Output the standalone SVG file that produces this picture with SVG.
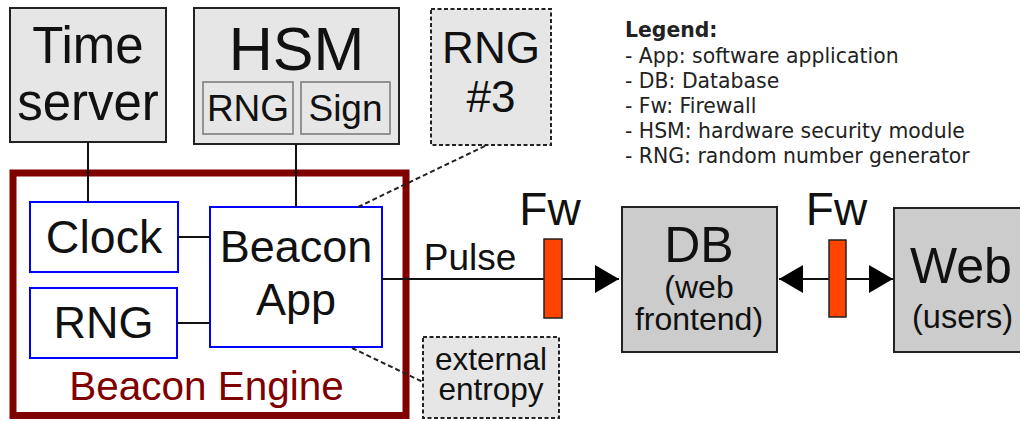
<svg xmlns="http://www.w3.org/2000/svg" width="1020" height="421" viewBox="0 0 1020 421">
<defs>
<style>
.lbl{font-family:"Liberation Sans",Arial,sans-serif;fill:#111;text-anchor:middle}
.leg{font-family:"DejaVu Sans",sans-serif;fill:#222;font-size:20.4px}
.box{fill:#e6e6e6;stroke:#222;stroke-width:2}
.gbox{fill:#cccccc;stroke:#222;stroke-width:2}
.inner{fill:#e6e6e6;stroke:#777;stroke-width:1.5}
.dash{fill:#e6e6e6;stroke:#222;stroke-width:2;stroke-dasharray:4,2.5}
.sub{fill:#fff;stroke:#0000ff;stroke-width:2}
.line{stroke:#111;stroke-width:2;fill:none}
.dline{stroke:#222;stroke-width:2;fill:none;stroke-dasharray:5,3}
.fw{fill:#ff4400;stroke:#222;stroke-width:1.5}
</style>
<marker id="arr" viewBox="0 0 24 28" refX="24" refY="14" markerWidth="24" markerHeight="28" markerUnits="userSpaceOnUse" orient="auto-start-reverse">
<path d="M0,0 L24,14 L0,28 Z" fill="#000"/>
</marker>
</defs>
<rect width="1020" height="421" fill="#fff"/>

<g id="time-server">
<rect class="box" x="10" y="8" width="156" height="134"/>
<text class="lbl" x="88" y="63" font-size="51">Time</text>
<text class="lbl" x="88" y="120" font-size="51">server</text>
</g>

<g id="hsm">
<rect class="box" x="194" y="8" width="205" height="136"/>
<text class="lbl" x="296.5" y="70" font-size="61">HSM</text>
<rect class="inner" x="203" y="82" width="90" height="52"/>
<text class="lbl" x="248" y="121" font-size="37">RNG</text>
<rect class="inner" x="301" y="82" width="89" height="52"/>
<text class="lbl" x="345.5" y="121" font-size="37">Sign</text>
</g>

<g id="rng3">
<rect class="dash" x="431" y="9" width="120" height="136"/>
<text class="lbl" x="491" y="63" font-size="44">RNG</text>
<text class="lbl" x="491" y="112" font-size="44">#3</text>
</g>

<g id="legend">
<text class="leg" x="625" y="37" font-weight="bold">Legend:</text>
<text class="leg" x="625" y="62.5">- App: software application</text>
<text class="leg" x="625" y="87.5">- DB: Database</text>
<text class="leg" x="625" y="112.5">- Fw: Firewall</text>
<text class="leg" x="625" y="138">- HSM: hardware security module</text>
<text class="leg" x="625" y="163">- RNG: random number generator</text>
</g>

<g id="beacon-engine">
<rect x="13" y="173" width="393" height="242.5" fill="#fff" stroke="#800000" stroke-width="7"/>
<text class="lbl" x="206.5" y="400" font-size="40.5" style="fill:#800000">Beacon Engine</text>
</g>

<g id="clock">
<rect class="sub" x="30" y="202" width="148" height="70"/>
<text class="lbl" x="104" y="253" font-size="46.5">Clock</text>
</g>

<g id="rng">
<rect class="sub" x="30" y="288" width="147" height="70"/>
<text class="lbl" x="103.5" y="338" font-size="45">RNG</text>
</g>

<g id="beacon-app">
<rect class="sub" x="210" y="207" width="172" height="140"/>
<text class="lbl" x="296" y="262" font-size="45">Beacon</text>
<text class="lbl" x="296" y="315" font-size="45">App</text>
</g>

<g id="external-entropy">
<rect class="dash" x="423" y="337" width="136" height="81"/>
<text class="lbl" x="491" y="370" font-size="31.5">external</text>
<text class="lbl" x="491" y="400" font-size="31.5">entropy</text>
</g>

<g id="db">
<rect class="gbox" x="622" y="207" width="155" height="145"/>
<text class="lbl" x="699" y="262" font-size="50">DB</text>
<text class="lbl" x="699" y="298" font-size="32">(web</text>
<text class="lbl" x="699" y="330" font-size="32">frontend)</text>
</g>

<g id="web">
<rect class="gbox" x="894" y="208" width="140" height="144"/>
<text class="lbl" x="910" y="283" font-size="50" style="text-anchor:start">Web</text>
<text class="lbl" x="912" y="328" font-size="32.5" style="text-anchor:start">(users)</text>
</g>

<g id="connectors">
<line class="line" x1="88" y1="142" x2="88" y2="202"/>
<line class="line" x1="296" y1="144" x2="296" y2="207"/>
<line class="line" x1="178" y1="237" x2="210" y2="237"/>
<line class="line" x1="177" y1="323" x2="210" y2="323"/>
<line class="dline" x1="358" y1="207" x2="487" y2="145"/>
<line class="dline" x1="352" y1="348" x2="423" y2="382"/>
<line class="line" x1="382" y1="279" x2="619" y2="279" marker-end="url(#arr)"/>
<line class="line" x1="779" y1="279" x2="893" y2="279" marker-start="url(#arr)" marker-end="url(#arr)"/>
<text class="lbl" x="470" y="270" font-size="37">Pulse</text>
</g>

<g id="firewall-1">
<text class="lbl" x="550" y="225" font-size="46">Fw</text>
<rect class="fw" x="544" y="239" width="18" height="79"/>
</g>

<g id="firewall-2">
<text class="lbl" x="836.5" y="225" font-size="46">Fw</text>
<rect class="fw" x="829" y="240" width="17" height="77"/>
</g>
</svg>
